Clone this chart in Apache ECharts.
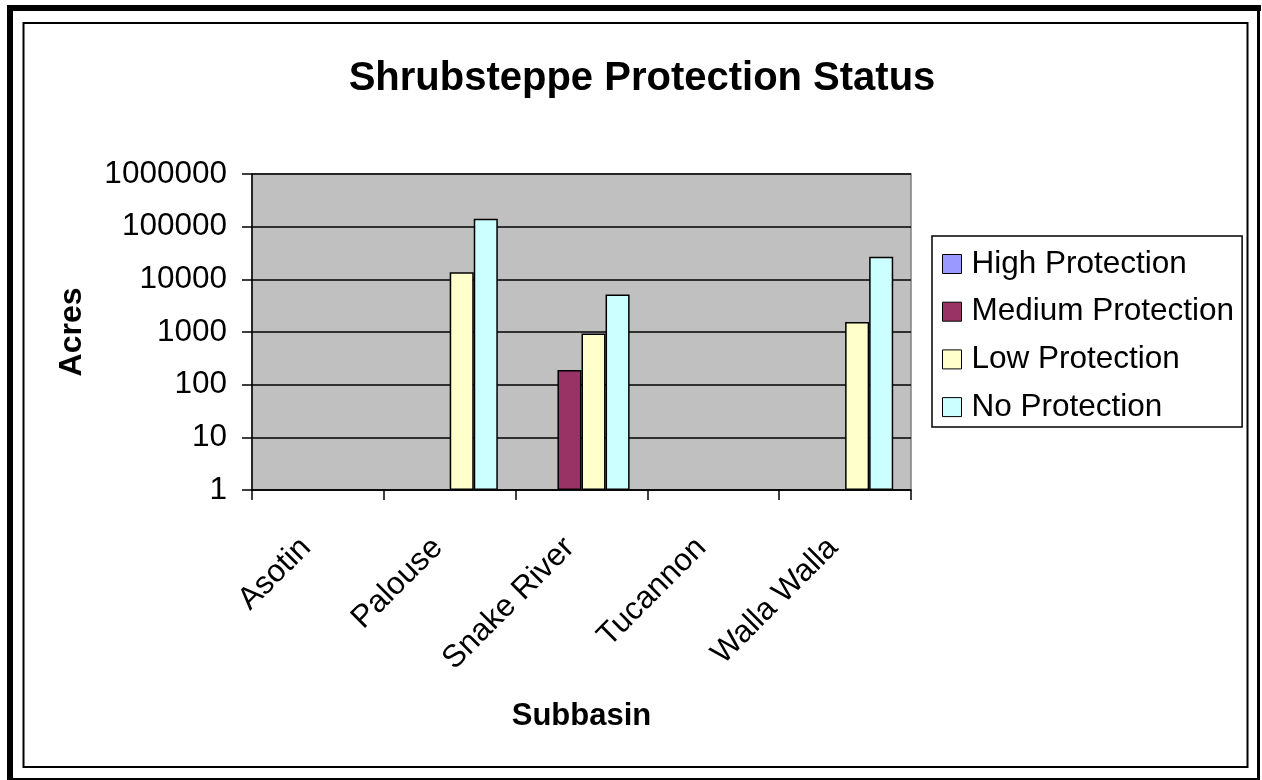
<!DOCTYPE html>
<html>
<head>
<meta charset="utf-8">
<script src="https://cdn.jsdelivr.net/npm/echarts@6/dist/echarts.min.js"></script>
<style>
  html, body { margin: 0; padding: 0; background: #fff; }
  #chart { width: 1262px; height: 780px; }
</style>
</head>
<body>
<div id="chart"></div>
<script>
// Subbasins along the x axis
const subbasins = ['Asotin', 'Palouse', 'Snake River', 'Tucannon', 'Walla Walla'];

// Acres of shrubsteppe by protection level (null = none recorded)
const highProtection   = [null, null, null, null, null];
const mediumProtection = [null, null, 189, null, null];
const lowProtection    = [null, 13700, 940, null, 1540];
const noProtection     = [null, 140600, 5170, null, 26700];

// Log-scale tick labels shown on the value axis
const yTickLabels = [1, 10, 100, 1000, 10000, 100000, 1000000];

const FONT = '"Liberation Sans", Arial, Helvetica, sans-serif';

const chart = echarts.init(document.getElementById('chart'), null, { renderer: 'canvas' });

function barSeries(name, data, color) {
  return {
    name: name,
    type: 'bar',
    data: data,
    barGap: '0%',
    barCategoryGap: '27%',
    itemStyle: { color: color, borderColor: '#000', borderWidth: 1.5 },
    emphasis: { disabled: true }
  };
}

chart.setOption({
  animation: false,
  backgroundColor: '#ffffff',
  title: {
    text: 'Shrubsteppe Protection Status',
    left: 637,
    top: 54,
    textAlign: 'center',
    textStyle: { fontFamily: FONT, fontSize: 40, fontWeight: 'bold', color: '#000' }
  },
  legend: {
    orient: 'vertical',
    left: 932,
    top: 236,
    padding: [12, 8, 4, 10],
    itemGap: 15.7,
    itemWidth: 19,
    itemHeight: 19,
    icon: 'rect',
    borderColor: '#000',
    borderWidth: 1.5,
    backgroundColor: '#fff',
    itemStyle: { borderColor: '#000', borderWidth: 1 },
    textStyle: { fontFamily: FONT, fontSize: 31.5, color: '#000', lineHeight: 30, padding: [0, 0, 0, 5] },
    data: ['High Protection', 'Medium Protection', 'Low Protection', 'No Protection']
  },
  grid: {
    left: 252,
    right: 351,
    top: 174,
    bottom: 290,
    show: true,
    backgroundColor: '#C0C0C0',
    borderColor: '#808080',
    borderWidth: 1.5
  },
  xAxis: {
    type: 'category',
    data: subbasins,
    name: 'Subbasin',
    nameLocation: 'middle',
    nameGap: 211,
    nameTextStyle: { fontFamily: FONT, fontSize: 31, fontWeight: 'bold', color: '#000' },
    axisLine: { lineStyle: { color: '#000', width: 1.5 } },
    axisTick: { show: true, length: 10, lineStyle: { color: '#000', width: 1.5 } },
    axisLabel: {
      interval: 0,
      rotate: 45,
      margin: 41,
      padding: [0, 17, 0, 0],
      fontFamily: FONT,
      fontSize: 31.5,
      color: '#000'
    }
  },
  yAxis: {
    type: 'log',
    logBase: 10,
    min: yTickLabels[0],
    max: yTickLabels[yTickLabels.length - 1],
    name: 'Acres',
    nameLocation: 'middle',
    nameRotate: 90,
    nameGap: 164,
    nameTextStyle: { fontFamily: FONT, fontSize: 32, fontWeight: 'bold', color: '#000' },
    axisLine: { show: true, lineStyle: { color: '#000', width: 1.5 } },
    axisTick: { show: true, length: 10, lineStyle: { color: '#000', width: 1.5 } },
    axisLabel: {
      margin: 25,
      fontFamily: FONT,
      fontSize: 31.5,
      color: '#000',
      formatter: function (v) { return String(Math.round(v)); }
    },
    splitLine: { show: true, lineStyle: { color: '#000', width: 1.5 } }
  },
  series: [
    barSeries('High Protection', highProtection, '#9999FF'),
    barSeries('Medium Protection', mediumProtection, '#993366'),
    barSeries('Low Protection', lowProtection, '#FFFFCC'),
    barSeries('No Protection', noProtection, '#CCFFFF')
  ],
  graphic: [
    // outer frame: heavy top and left edges, thin right and bottom edges
    { type: 'rect', shape: { x: 7, y: 5, width: 1254, height: 6 }, style: { fill: '#000' }, silent: true },
    { type: 'rect', shape: { x: 7, y: 5, width: 6, height: 775 }, style: { fill: '#000' }, silent: true },
    { type: 'rect', shape: { x: 1257, y: 5, width: 3, height: 775 }, style: { fill: '#000' }, silent: true },
    { type: 'rect', shape: { x: 7, y: 778, width: 1253, height: 2 }, style: { fill: '#000' }, silent: true },
    // inner chart-area border
    { type: 'rect', shape: { x: 23.5, y: 23, width: 1224, height: 744 }, style: { fill: null, stroke: '#000', lineWidth: 2 }, silent: true }
  ]
});
</script>
</body>
</html>
